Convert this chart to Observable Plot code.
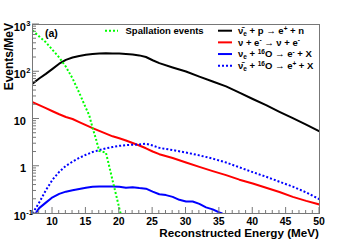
<!DOCTYPE html>
<html><head><meta charset="utf-8">
<script src="https://cdn.jsdelivr.net/npm/d3@7"></script>
<script src="https://cdn.jsdelivr.net/npm/@observablehq/plot@0.6"></script>
<style>
body{margin:0;background:#fff;}
svg text{font-family:"Liberation Sans",Arial,Helvetica,sans-serif;font-weight:bold;}
</style></head><body><div id="chart"></div>
<script>
// Energy grid (MeV) shared by three spectra
const energy = [7,8,9,10,11,12,13,14,15,16,17,18,19,20,21,22,23,24,25,26,28,30,32,34,36,38,40,42,44,46,48,50];
// anti-nu_e + p -> e+ + n
const ibd = [56,72,90,115,148,178,200,215,228,238,243,245,244,242,238,232,222,205,175,152,123,101,79,62,49,36,26.5,19.6,14.2,10.4,7.6,5.5];
// nu + e- -> nu + e-
const elastic = [22.7,19.6,17.0,14.6,12.6,11.0,10.0,8.6,7.4,6.4,5.6,4.9,4.3,3.9,3.5,3.1,2.75,2.4,2.05,1.8,1.49,1.2,0.97,0.79,0.65,0.52,0.43,0.35,0.285,0.225,0.185,0.155];
// anti-nu_e + 16O -> e+ + X
const antiO16 = [0.1,0.17,0.31,0.52,0.76,1.02,1.25,1.5,1.75,2.0,2.2,2.4,2.55,2.7,2.8,2.85,2.9,3.0,2.75,2.45,2.2,1.95,1.7,1.45,1.2,0.95,0.75,0.6,0.47,0.37,0.28,0.2];
// nu_e + 16O -> e- + X
const nuO16E = [7.45,8,9,10,11,12,13,14,15,16,17,18,19,20,21,22,23,24,25,26,27,28,29,30,31,32,33,34,35,35.4];
const nuO16 = [0.1,0.13,0.17,0.22,0.26,0.29,0.31,0.33,0.35,0.37,0.375,0.375,0.375,0.37,0.35,0.36,0.345,0.335,0.29,0.255,0.245,0.225,0.195,0.18,0.18,0.16,0.135,0.122,0.105,0.1];
// Spallation events
const spallE = [7,8,9,10,11,12,13,14,15,15.5,16,16.5,17,18,19,20,20.2];
const spall = [750,560,420,290,200,128,72,36,17,12,6.5,3.8,2.1,1.95,0.5,0.13,0.1];

const xMajor = [10,15,20,25,30,35,40,45,50];
const xMinor = d3.range(8,51,1);
const yMajor = [0.1,1,10,100,1000];
const yBase = ["10","1","10","10","10"];
const yExp = ["-1","","","2","3"];
const yMinor = [0.2,0.3,0.4,0.5,0.6,0.7,0.8,0.9,2,3,4,5,6,7,8,9,20,30,40,50,60,70,80,90,200,300,400,500,600,700,800,900];

const rows = (xs, ys) => xs.map((x,i)=>({x, y: ys[i]}));
const dotted = {strokeDasharray:"2,2", strokeLinecap:"butt"};

const chart = Plot.plot({
  width:354, height:241,
  marginTop:24, marginBottom:28, marginLeft:32, marginRight:35,
  x:{domain:[7,50], axis:null},
  y:{type:"log", domain:[0.1,1000], axis:null},
  style:{background:"white"},
  marks:[
    Plot.line(rows(energy, ibd), {x:"x", y:"y", stroke:"#000", strokeWidth:2, clip:true}),
    Plot.line(rows(energy, elastic), {x:"x", y:"y", stroke:"#ff0000", strokeWidth:2, clip:true}),
    Plot.line(rows(nuO16E, nuO16), {x:"x", y:"y", stroke:"#0000ff", strokeWidth:2, clip:true}),
    Plot.line(rows(energy, antiO16), {x:"x", y:"y", stroke:"#0000ff", strokeWidth:2, ...dotted, clip:true}),
    Plot.line(rows(spallE, spall), {x:"x", y:"y", stroke:"#00ff00", strokeWidth:2, ...dotted, clip:true}),
    Plot.frame({stroke:"#777"})
  ]
});
document.getElementById("chart").appendChild(chart);

const sx = chart.scale("x"), sy = chart.scale("y");
const svg = d3.select(chart);
const x0 = sx.apply(7), x1 = sx.apply(50), y0 = sy.apply(0.1), yTop = sy.apply(1000);
const g = svg.append("g").attr("text-anchor", "start");
// x ticks (inside)
xMinor.forEach(v => {
  const major = xMajor.includes(v);
  g.append("line").attr("x1", sx.apply(v)).attr("x2", sx.apply(v))
    .attr("y1", y0).attr("y2", y0 - (major ? 6 : 3)).attr("stroke", "#777");
});
xMajor.forEach(v => {
  g.append("text").attr("x", sx.apply(v)).attr("y", y0 + 11.5).attr("text-anchor","middle")
    .attr("font-size", 10.5).text(v);
});
// y ticks (inside)
yMajor.forEach((v,i) => {
  const py = sy.apply(v);
  g.append("line").attr("x1", x0).attr("x2", x0 + 7).attr("y1", py).attr("y2", py).attr("stroke","#777");
  g.append("text").attr("x", 26).attr("y", py + 6.5).attr("text-anchor","end").attr("font-size", 11).text(yBase[i]);
  if (yExp[i]) g.append("text").attr("x", 26.3).attr("y", py + 1.5).attr("text-anchor","start").attr("font-size", 7.5).text(yExp[i]);
});
yMinor.forEach(v => {
  const py = sy.apply(v);
  g.append("line").attr("x1", x0).attr("x2", x0 + 4).attr("y1", py).attr("y2", py).attr("stroke","#777");
});
// axis titles
g.append("text").attr("transform", `translate(13,${yTop - 1}) rotate(-90)`).attr("text-anchor","end")
  .attr("font-size", 12).text("Events/MeV");
g.append("text").attr("x", x1).attr("y", y0 + 24.3).attr("text-anchor","end")
  .attr("font-size", 11.7).text("Reconstructed Energy (MeV)");
// panel tag
g.append("text").attr("x", 45).attr("y", 36.5).attr("text-anchor","start").attr("font-size", 10.5).text("(a)");

// legends
function rich(parent, x, y, parts) {
  const t = parent.append("text").attr("x", x).attr("y", y).attr("text-anchor","start").attr("font-size", 9.5);
  let cur = 0;
  parts.forEach(([s, m]) => {
    const target = m === 1 ? -3.5 : m === -1 ? 2 : 0;
    t.append("tspan").attr("dy", target - cur).attr("font-size", m ? 6.5 : 9.5).text(s);
    cur = target;
  });
}
const legendItems = [
  {color:"#000", dash:null, parts:[["ν\u0304",0],["e",-1],[" + p → e",0],["+",1],[" + n",0]]},
  {color:"#ff0000", dash:null, parts:[["ν + e",0],["-",1],[" → ν + e",0],["-",1]]},
  {color:"#0000ff", dash:null, parts:[["ν",0],["e",-1],[" + ",0],["16",1],["O → e",0],["-",1],[" + X",0]]},
  {color:"#0000ff", dash:"2,2", parts:[["ν\u0304",0],["e",-1],[" + ",0],["16",1],["O → e",0],["+",1],[" + X",0]]}
];
legendItems.forEach((it, i) => {
  const ly = 30.7 + i * 11.67;
  g.append("line").attr("x1", 218).attr("x2", 232).attr("y1", ly).attr("y2", ly)
    .attr("stroke", it.color).attr("stroke-width", 2).attr("stroke-dasharray", it.dash);
  rich(g, 238, ly + 3.3, it.parts);
});
g.append("line").attr("x1", 105).attr("x2", 118).attr("y1", 30.7).attr("y2", 30.7)
  .attr("stroke", "#00ff00").attr("stroke-width", 2).attr("stroke-dasharray", "2,2");
g.append("text").attr("x", 125.5).attr("y", 33.5).attr("text-anchor","start").attr("font-size", 9.5).text("Spallation events");
</script></body></html>
